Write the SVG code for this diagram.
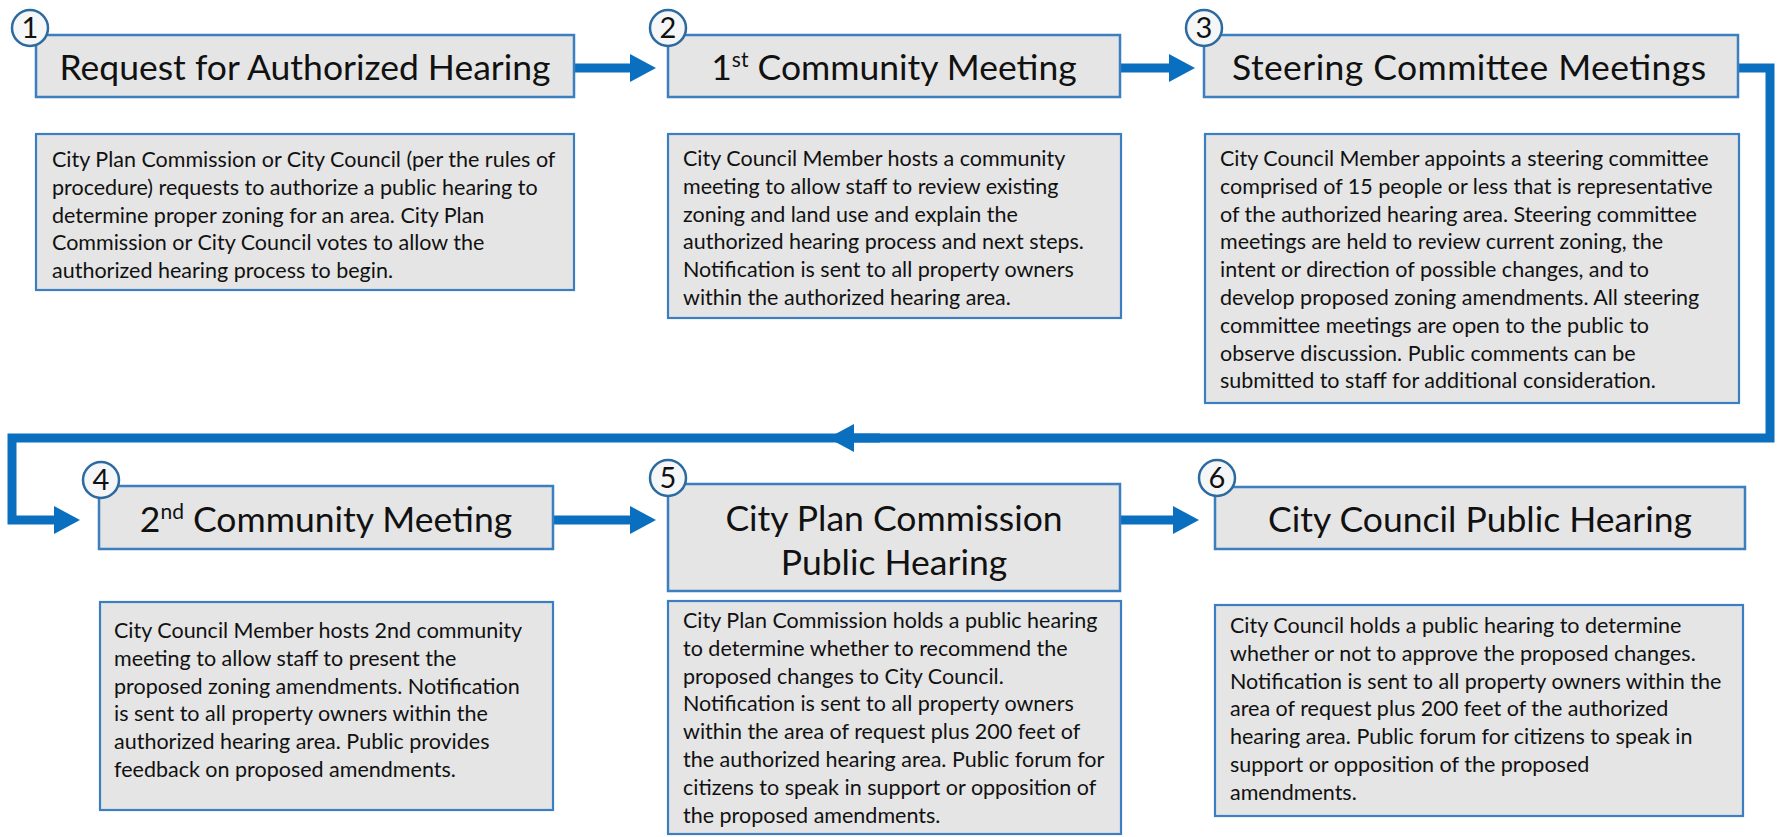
<svg xmlns="http://www.w3.org/2000/svg" width="1779" height="837" viewBox="0 0 1779 837">
  <defs>
    <marker id="head" markerUnits="userSpaceOnUse" markerWidth="26" markerHeight="28" refX="2" refY="14" orient="auto">
      <path d="M0,0 L26,14 L0,28 Z" fill="#0b6fbf"/>
    </marker>
    <style>
      .title { fill: #e5e5e5; stroke: #3b7fc0; stroke-width: 2.5; }
      .desc { fill: #e5e5e5; stroke: #3b7fc0; stroke-width: 2.2; }
      .badge { fill: #f4f6f8; stroke: #2c6a9f; stroke-width: 2.5; }
      .num { font-family: Lato, "Liberation Sans", sans-serif; font-size: 29px; fill: #111; text-anchor: middle; }
      .ttl { font-family: Lato, "Liberation Sans", sans-serif; font-size: 35.5px; fill: #111; text-anchor: middle; }
      .sup { font-size: 21px; }
      .txt { font-family: Lato, "Liberation Sans", sans-serif; font-size: 21.5px; fill: #111; }
      .wire { fill: none; stroke: #0b6fbf; stroke-width: 9; stroke-linejoin: miter; marker-end: url(#head); }
    </style>
  </defs>
  <rect width="1779" height="837" fill="#ffffff"/>

  <!-- flow connectors -->
  <g id="connectors">
    <path class="wire" d="M574,68 H632"/>
    <path class="wire" d="M1120,68 H1171"/>
    <path class="wire" d="M1738,68 H1770 V438 H12 V520 H56"/>
    <path class="wire" d="M880,438 H852"/>
    <path class="wire" d="M553,520 H632"/>
    <path class="wire" d="M1120,520 H1175"/>
  </g>

  <!-- step 1 -->
  <g id="step1">
    <rect class="title" x="36" y="35" width="538" height="62"/>
    <circle class="badge" cx="30" cy="28" r="18"/>
    <text class="num" x="30" y="38">1</text>
    <text class="ttl" x="305" y="80">Request for Authorized Hearing</text>
  </g>
  <g id="step1-desc">
    <rect class="desc" x="36" y="134" width="538" height="156"/>
    <text class="txt" x="52" y="167">
      <tspan x="52" dy="0">City Plan Commission or City Council (per the rules of</tspan>
      <tspan x="52" dy="27.8">procedure) requests to authorize a public hearing to</tspan>
      <tspan x="52" dy="27.8">determine proper zoning for an area. City Plan</tspan>
      <tspan x="52" dy="27.8">Commission or City Council votes to allow the</tspan>
      <tspan x="52" dy="27.8">authorized hearing process to begin.</tspan>
    </text>
  </g>

  <!-- step 2 -->
  <g id="step2">
    <rect class="title" x="668" y="35" width="452" height="62"/>
    <circle class="badge" cx="668" cy="28" r="18"/>
    <text class="num" x="668" y="38">2</text>
    <text class="ttl" x="894" y="80">1<tspan class="sup" dy="-13">st</tspan><tspan dy="13"> Community Meeting</tspan></text>
  </g>
  <g id="step2-desc">
    <rect class="desc" x="668" y="134" width="453" height="184"/>
    <text class="txt" x="683" y="166">
      <tspan x="683" dy="0">City Council Member hosts a community</tspan>
      <tspan x="683" dy="27.8">meeting to allow staff to review existing</tspan>
      <tspan x="683" dy="27.8">zoning and land use and explain the</tspan>
      <tspan x="683" dy="27.8">authorized hearing process and next steps.</tspan>
      <tspan x="683" dy="27.8">Notification is sent to all property owners</tspan>
      <tspan x="683" dy="27.8">within the authorized hearing area.</tspan>
    </text>
  </g>

  <!-- step 3 -->
  <g id="step3">
    <rect class="title" x="1204" y="35" width="534" height="62"/>
    <circle class="badge" cx="1204" cy="28" r="18"/>
    <text class="num" x="1204" y="38">3</text>
    <text class="ttl" x="1469" y="80" textLength="474" lengthAdjust="spacing">Steering Committee Meetings</text>
  </g>
  <g id="step3-desc">
    <rect class="desc" x="1205" y="134" width="534" height="269"/>
    <text class="txt" x="1220" y="166">
      <tspan x="1220" dy="0">City Council Member appoints a steering committee</tspan>
      <tspan x="1220" dy="27.8">comprised of 15 people or less that is representative</tspan>
      <tspan x="1220" dy="27.8">of the authorized hearing area. Steering committee</tspan>
      <tspan x="1220" dy="27.8">meetings are held to review current zoning, the</tspan>
      <tspan x="1220" dy="27.8">intent or direction of possible changes, and to</tspan>
      <tspan x="1220" dy="27.8">develop proposed zoning amendments. All steering</tspan>
      <tspan x="1220" dy="27.8">committee meetings are open to the public to</tspan>
      <tspan x="1220" dy="27.8">observe discussion. Public comments can be</tspan>
      <tspan x="1220" dy="27.8">submitted to staff for additional consideration.</tspan>
    </text>
  </g>

  <!-- step 4 -->
  <g id="step4">
    <rect class="title" x="99" y="486" width="454" height="63"/>
    <circle class="badge" cx="101" cy="480" r="18"/>
    <text class="num" x="101" y="490">4</text>
    <text class="ttl" x="326" y="532">2<tspan class="sup" dy="-13">nd</tspan><tspan dy="13"> Community Meeting</tspan></text>
  </g>
  <g id="step4-desc">
    <rect class="desc" x="100" y="602" width="453" height="208"/>
    <text class="txt" x="114" y="638">
      <tspan x="114" dy="0">City Council Member hosts 2nd community</tspan>
      <tspan x="114" dy="27.8">meeting to allow staff to present the</tspan>
      <tspan x="114" dy="27.8">proposed zoning amendments. Notification</tspan>
      <tspan x="114" dy="27.8">is sent to all property owners within the</tspan>
      <tspan x="114" dy="27.8">authorized hearing area. Public provides</tspan>
      <tspan x="114" dy="27.8">feedback on proposed amendments.</tspan>
    </text>
  </g>

  <!-- step 5 -->
  <g id="step5">
    <rect class="title" x="668" y="484" width="452" height="107"/>
    <circle class="badge" cx="668" cy="478" r="18"/>
    <text class="num" x="668" y="488">5</text>
    <text class="ttl" x="894" y="531">City Plan Commission</text>
    <text class="ttl" x="894" y="575">Public Hearing</text>
  </g>
  <g id="step5-desc">
    <rect class="desc" x="668" y="601" width="453" height="233"/>
    <text class="txt" x="683" y="628">
      <tspan x="683" dy="0">City Plan Commission holds a public hearing</tspan>
      <tspan x="683" dy="27.8">to determine whether to recommend the</tspan>
      <tspan x="683" dy="27.8">proposed changes to City Council.</tspan>
      <tspan x="683" dy="27.8">Notification is sent to all property owners</tspan>
      <tspan x="683" dy="27.8">within the area of request plus 200 feet of</tspan>
      <tspan x="683" dy="27.8">the authorized hearing area. Public forum for</tspan>
      <tspan x="683" dy="27.8">citizens to speak in support or opposition of</tspan>
      <tspan x="683" dy="27.8">the proposed amendments.</tspan>
    </text>
  </g>

  <!-- step 6 -->
  <g id="step6">
    <rect class="title" x="1215" y="487" width="530" height="62"/>
    <circle class="badge" cx="1217" cy="478" r="18"/>
    <text class="num" x="1217" y="488">6</text>
    <text class="ttl" x="1480" y="532">City Council Public Hearing</text>
  </g>
  <g id="step6-desc">
    <rect class="desc" x="1215" y="605" width="528" height="211"/>
    <text class="txt" x="1230" y="633">
      <tspan x="1230" dy="0">City Council holds a public hearing to determine</tspan>
      <tspan x="1230" dy="27.8">whether or not to approve the proposed changes.</tspan>
      <tspan x="1230" dy="27.8">Notification is sent to all property owners within the</tspan>
      <tspan x="1230" dy="27.8">area of request plus 200 feet of the authorized</tspan>
      <tspan x="1230" dy="27.8">hearing area. Public forum for citizens to speak in</tspan>
      <tspan x="1230" dy="27.8">support or opposition of the proposed</tspan>
      <tspan x="1230" dy="27.8">amendments.</tspan>
    </text>
  </g>
</svg>
